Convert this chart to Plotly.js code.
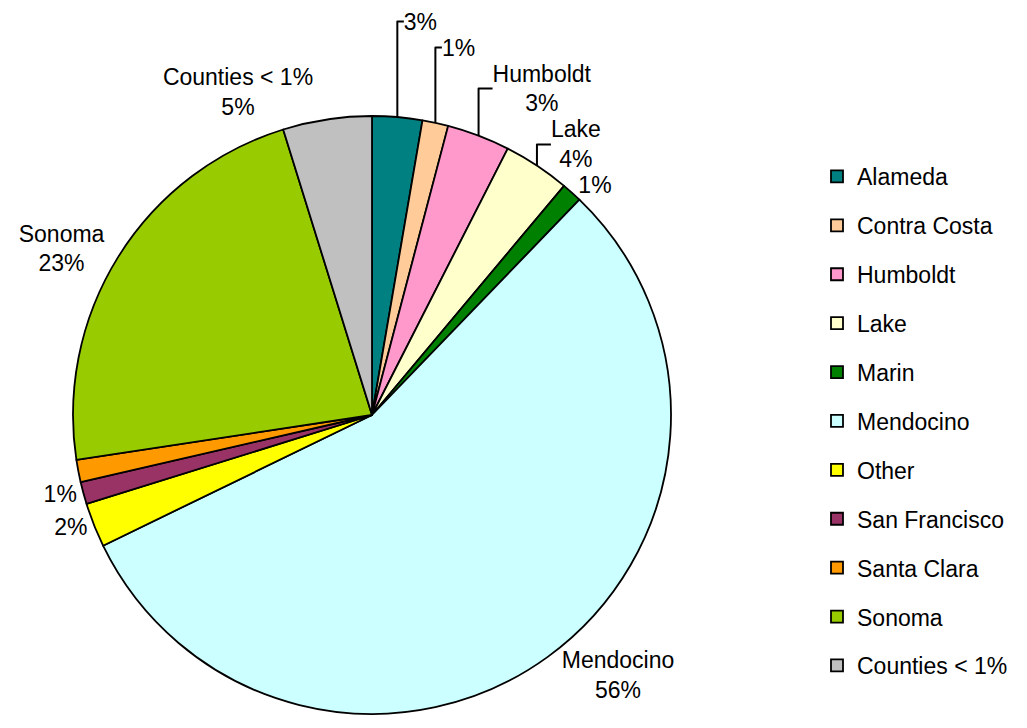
<!DOCTYPE html>
<html>
<head>
<meta charset="utf-8">
<script src="https://cdn.plot.ly/plotly-3.0.1.min.js"></script>
<style>html,body{margin:0;padding:0;background:#fff;}#chart{width:1027px;height:728px;}</style>
</head>
<body>
<div id="chart"></div>
<script>
const categories = ["Alameda", "Contra Costa", "Humboldt", "Lake", "Marin", "Mendocino", "Other", "San Francisco", "Santa Clara", "Sonoma", "Counties < 1%"];
const shares = [2.7, 1.4, 3.4, 3.6, 1.1, 55.6, 2.4, 1.2, 1.2, 22.6, 4.8];
const sliceColors = ["#008080", "#FFCC99", "#FF99CC", "#FFFFCC", "#008000", "#CCFFFF", "#FFFF00", "#993366", "#FF9900", "#99CC00", "#C0C0C0"];
const labelTemplates = ["%{percent:.0%}", "%{percent:.0%}", "%{label}<br>%{percent:.0%}", "%{label}<br>%{percent:.0%}", "%{percent:.0%}", "%{label}<br>%{percent:.0%}", "%{percent:.0%}", "%{percent:.0%}", "", "%{label}<br>%{percent:.0%}", "%{label}<br>%{percent:.0%}"];
const labelPositions = ["outside", "outside", "outside", "outside", "outside", "outside", "outside", "outside", "none", "outside", "outside"];

const W = 1027, H = 728;
const cx = 372, cy = 415, R = 299;
const FONT = "Liberation Sans, Arial, sans-serif";

const trace = {
  type: "pie",
  labels: categories,
  values: shares,
  sort: false,
  direction: "clockwise",
  rotation: 0,
  marker: { colors: sliceColors, line: { color: "#000", width: 1.8 } },
  texttemplate: labelTemplates,
  textposition: labelPositions,
  outsidetextfont: { family: FONT, size: 23, color: "#000" },
  hoverinfo: "label+percent",
  legendgroup: "",
  domain: {
    x: [(cx - R) / W, (cx + R) / W],
    y: [1 - (cy + R) / H, 1 - (cy - R) / H]
  }
};

// invisible helper so the legend keeps one gap between every slice entry
const spacer = {
  type: "pie",
  labels: [" "],
  values: [1],
  marker: { colors: ["rgba(0,0,0,0)"], line: { width: 0 } },
  textposition: "none",
  hoverinfo: "skip",
  legendgroup: "spacer",
  domain: { x: [0, 0.0005], y: [0, 0.0005] }
};

const layout = {
  width: W, height: H,
  margin: { l: 0, r: 0, t: 0, b: 0, autoexpand: false },
  paper_bgcolor: "#fff",
  font: { family: FONT, size: 23, color: "#000" },
  showlegend: true,
  legend: {
    x: 817 / W, xanchor: "left",
    y: 1 - 155 / H, yanchor: "top",
    traceorder: "grouped",
    tracegroupgap: 16,
    font: { family: FONT, size: 23, color: "#000" },
    bgcolor: "rgba(0,0,0,0)"
  }
};

Plotly.newPlot("chart", [trace, spacer], layout, { displayModeBar: false, staticPlot: true });
</script>
</body>
</html>
